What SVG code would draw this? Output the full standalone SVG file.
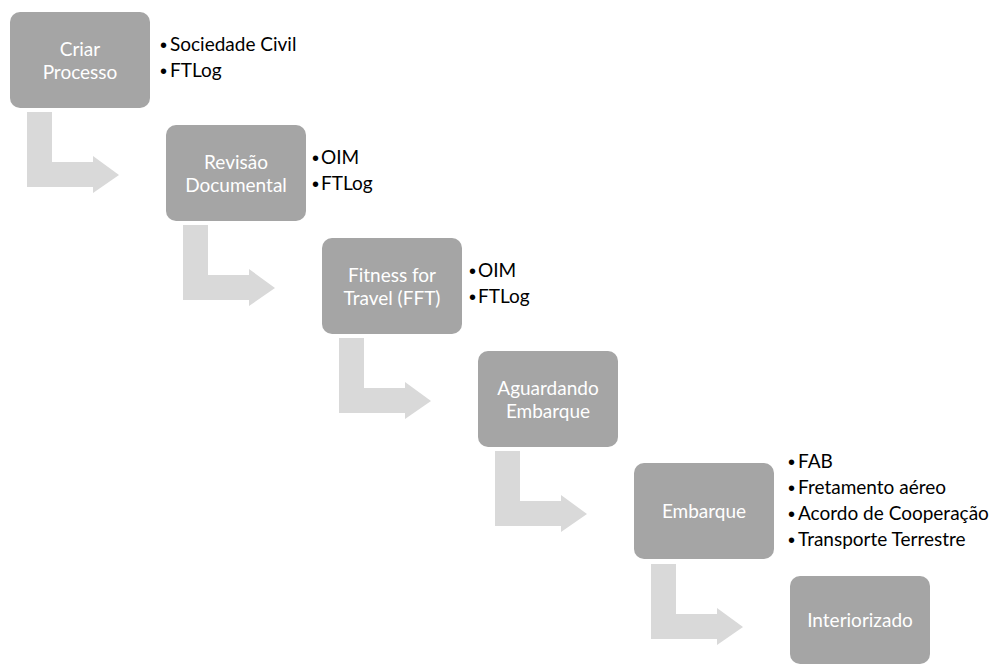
<svg xmlns="http://www.w3.org/2000/svg" width="996" height="666" viewBox="0 0 996 666">
<defs>
<style>
.box{fill:#a5a5a5}
.arr{fill:#d9d9d9}
.bt{font-family:Lato,"Liberation Sans",sans-serif;font-size:19px;fill:#ffffff;text-anchor:middle}
.li{font-family:Lato,"Liberation Sans",sans-serif;font-size:19px;fill:#000000}
.bu{font-family:"Liberation Sans",sans-serif;font-size:20px;fill:#000000}
</style>
<path id="bend" d="M0,0 H25 V50 H66 V44 L92,63 L66,81 V75 H0 Z"/>
</defs>
<rect width="996" height="666" fill="#ffffff"/>
<g id="connectors">
<use href="#bend" class="arr" x="27" y="112"/>
<use href="#bend" class="arr" x="183" y="225"/>
<use href="#bend" class="arr" x="339" y="338"/>
<use href="#bend" class="arr" x="495" y="451"/>
<use href="#bend" class="arr" x="651" y="564"/>
</g>
<g id="n1">
<rect class="box" x="10" y="12" width="140" height="96" rx="10"/>
<text class="bt"><tspan x="80" y="56">Criar</tspan><tspan x="80" y="79">Processo</tspan></text>
<text class="bu"><tspan x="160" y="52">•</tspan><tspan x="160" y="78">•</tspan></text>
<text class="li"><tspan x="170" y="51">Sociedade Civil</tspan><tspan x="170" y="77">FTLog</tspan></text>
</g>
<g id="n2">
<rect class="box" x="166" y="125" width="140" height="96" rx="10"/>
<text class="bt"><tspan x="236" y="169">Revisão</tspan><tspan x="236" y="192">Documental</tspan></text>
<text class="bu"><tspan x="312" y="165">•</tspan><tspan x="312" y="191">•</tspan></text>
<text class="li"><tspan x="321" y="164">OIM</tspan><tspan x="321" y="190">FTLog</tspan></text>
</g>
<g id="n3">
<rect class="box" x="322" y="238" width="140" height="96" rx="10"/>
<text class="bt"><tspan x="392" y="282">Fitness for</tspan><tspan x="392" y="305">Travel (FFT)</tspan></text>
<text class="bu"><tspan x="469" y="278">•</tspan><tspan x="469" y="304">•</tspan></text>
<text class="li"><tspan x="478" y="277">OIM</tspan><tspan x="478" y="303">FTLog</tspan></text>
</g>
<g id="n4">
<rect class="box" x="478" y="351" width="140" height="96" rx="10"/>
<text class="bt"><tspan x="548" y="395">Aguardando</tspan><tspan x="548" y="418">Embarque</tspan></text>
</g>
<g id="n5">
<rect class="box" x="634" y="463" width="140" height="96" rx="10"/>
<text class="bt" x="704" y="518">Embarque</text>
<text class="bu"><tspan x="788" y="469">•</tspan><tspan x="788" y="495">•</tspan><tspan x="788" y="521">•</tspan><tspan x="788" y="547">•</tspan></text>
<text class="li"><tspan x="798" y="468">FAB</tspan><tspan x="798" y="494">Fretamento aéreo</tspan><tspan x="798" y="520">Acordo de Cooperação</tspan><tspan x="798" y="546">Transporte Terrestre</tspan></text>
</g>
<g id="n6">
<rect class="box" x="790" y="576" width="140" height="88" rx="10"/>
<text class="bt" x="860" y="627">Interiorizado</text>
</g>
</svg>
